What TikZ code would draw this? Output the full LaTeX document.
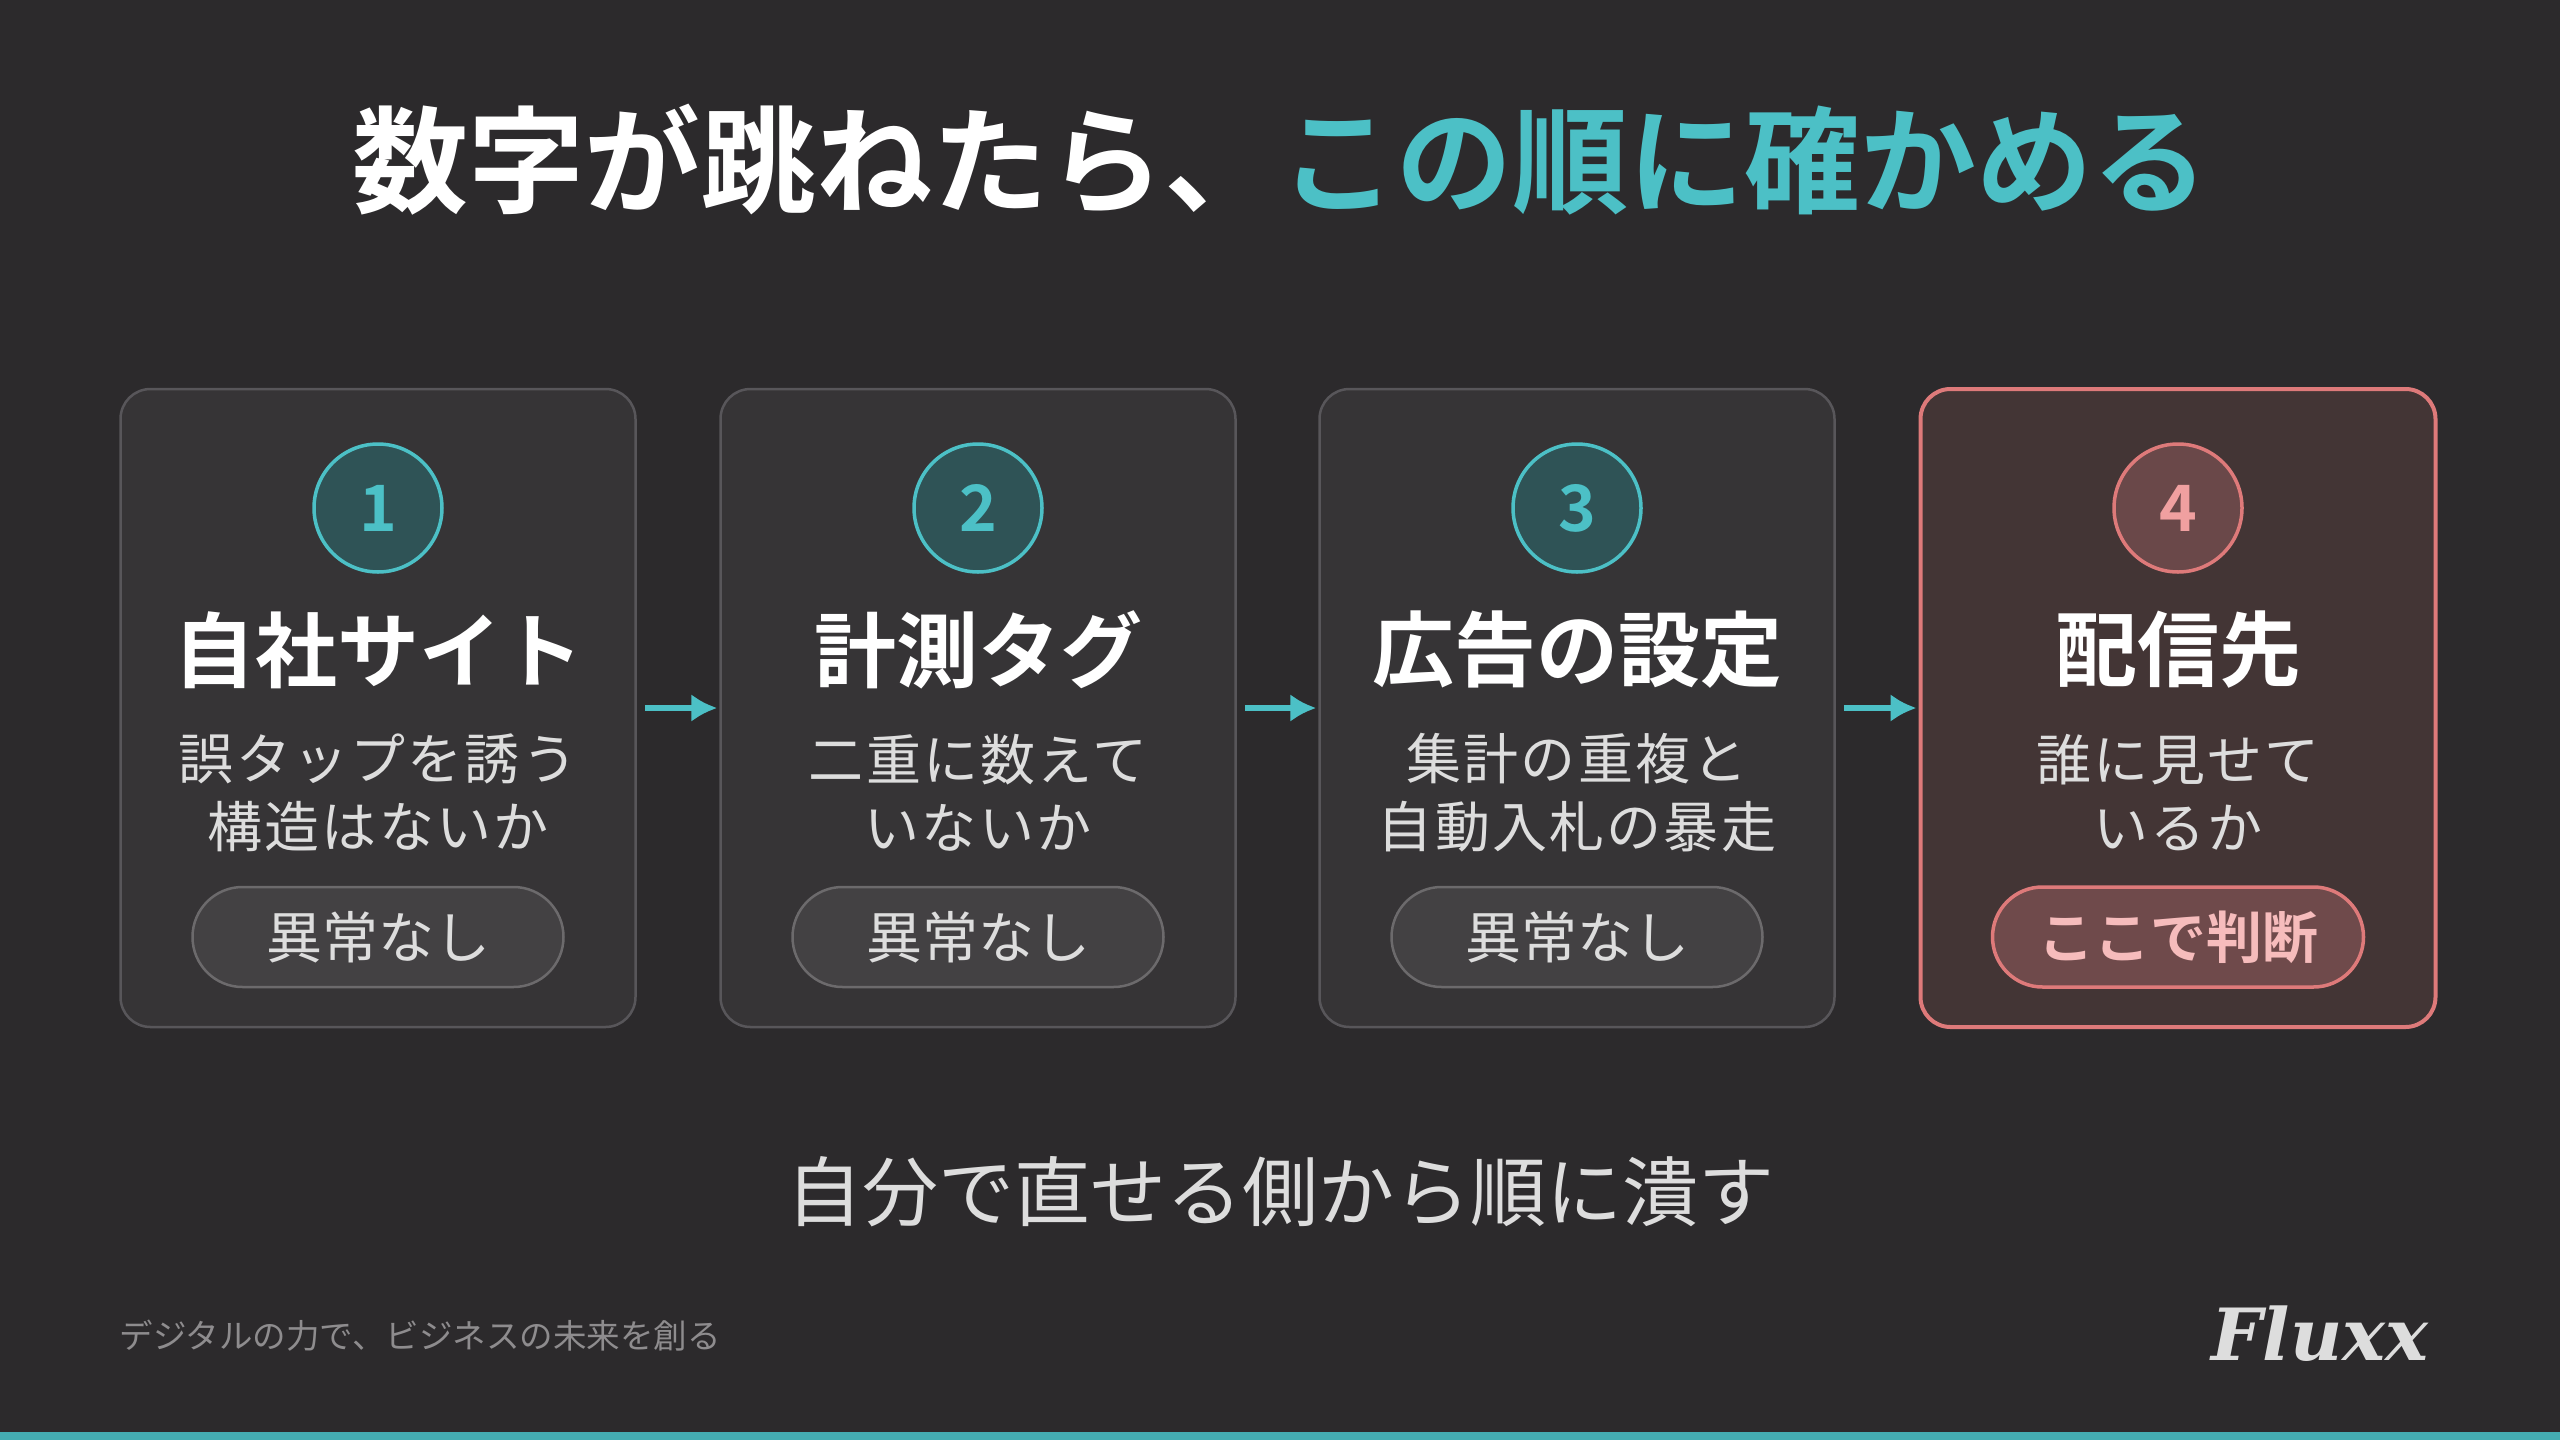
\documentclass[tikz,border=0pt]{standalone}
\usepackage{fontspec}
\setmainfont{Noto Sans CJK JP}
\newfontfamily\jpb{Noto Sans CJK JP Bold}
\newfontfamily\logofont{DejaVu Serif}
\definecolor{bg}{HTML}{2C2A2C}
\definecolor{cardf}{HTML}{363436}
\definecolor{cards}{HTML}{58565A}
\definecolor{teal}{HTML}{4CC0C6}
\definecolor{circf}{HTML}{2F5356}
\definecolor{pillf}{HTML}{434143}
\definecolor{pills}{HTML}{6C6A6C}
\definecolor{txt}{HTML}{DDDDDD}
\definecolor{redf}{HTML}{433535}
\definecolor{reds}{HTML}{DE7A7A}
\definecolor{redc}{HTML}{6A4849}
\definecolor{redn}{HTML}{F0A0A0}
\definecolor{redp}{HTML}{6F4A4B}
\definecolor{redt}{HTML}{F6BCBC}
\definecolor{foot}{HTML}{8E8C8E}
\usetikzlibrary{arrows.meta}
\tikzset{
  card/.style={draw=cards, fill=cardf, line width=2.5pt, rounded corners=30pt, minimum width=515pt, minimum height=638pt},
  rcard/.style={card, draw=reds, fill=redf, line width=4pt},
  num/.style={circle, draw=teal, fill=circf, line width=3.5pt, minimum size=128pt, text=teal, font=\jpb\fontsize{64}{64}\selectfont, inner sep=0},
  rnum/.style={num, draw=reds, fill=redc, text=redn},
  head/.style={text=white, font=\jpb\fontsize{82}{82}\selectfont},
  desc/.style={text=txt, font=\addfontfeatures{LetterSpace=4}\fontsize{55}{68}\selectfont, align=center},
  pill/.style={draw=pills, fill=pillf, line width=2.5pt, rounded corners=50pt, minimum width=371pt, minimum height=100pt, text=txt, font=\fontsize{56}{56}\selectfont},
  rpill/.style={pill, draw=reds, fill=redp, line width=3.5pt, text=redt, font=\jpb\fontsize{56}{56}\selectfont},
  arr/.style={draw=teal, line width=6pt, -{Latex[length=26pt,width=28pt]}}
}
\begin{document}
\begin{tikzpicture}[x=1pt,y=-1pt]
\fill[bg] (0,0) rectangle (2560,1440);
\fill[teal!90!black] (0,1432) rectangle (2560,1440);
\useasboundingbox (0,0) rectangle (2560,1440);
\node[font=\jpb\fontsize{116}{116}\selectfont] (title) at (1280,160) {\textcolor{white}{数字が跳ねたら、}\textcolor{teal}{この順に確かめる}};
\node[card] (c1) at (378,708) {};
\node[card] (c2) at (978,708) {};
\node[card] (c3) at (1577,708) {};
\node[rcard] (c4) at (2178,708) {};
\node[num] (n1) at (378,508) {1};
\node[num] (n2) at (978,508) {2};
\node[num] (n3) at (1577,508) {3};
\node[rnum] (n4) at (2178,508) {4};
\node[head] (h1) at (378,650) {自社サイト};
\node[head] (h2) at (978,650) {計測タグ};
\node[head] (h3) at (1577,650) {広告の設定};
\node[head] (h4) at (2178,650) {配信先};
\node[desc] (d1) at (378,793) {誤タップを誘う\\構造はないか};
\node[desc] (d2) at (978,793) {二重に数えて\\いないか};
\node[desc] (d3) at (1577,793) {集計の重複と\\自動入札の暴走};
\node[desc] (d4) at (2178,793) {誰に見せて\\いるか};
\node[pill] (p1) at (378,937) {異常なし};
\node[pill] (p2) at (978,937) {異常なし};
\node[pill] (p3) at (1577,937) {異常なし};
\node[rpill] (p4) at (2178,937) {ここで判断};
\draw[arr] ([xshift=8pt]c1.east) -- ([xshift=-2pt]c2.west);
\draw[arr] ([xshift=8pt]c2.east) -- ([xshift=-2pt]c3.west);
\draw[arr] ([xshift=8pt]c3.east) -- ([xshift=-2pt]c4.west);
\node[text=txt, font=\fontsize{76}{76}\selectfont] (sub) at (1280,1192) {自分で直せる側から順に潰す};
\node[text=foot, anchor=west, font=\fontsize{33.5}{33.5}\selectfont] (ft) at (116,1336) {デジタルの力で、ビジネスの未来を創る};
\node[text=txt, font=\logofont\itshape\bfseries\fontsize{72}{72}\selectfont] (logo) at (2320,1334) {Fluxx};
\end{tikzpicture}
\end{document}
